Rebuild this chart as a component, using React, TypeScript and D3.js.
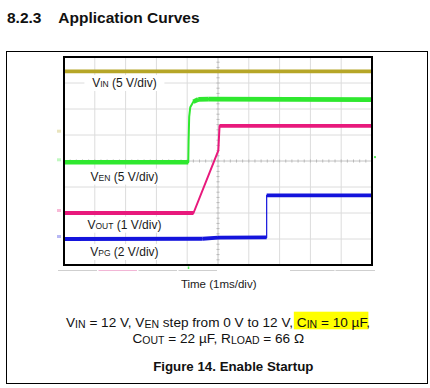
import React, { useLayoutEffect, useRef, useState } from "react";
import * as d3 from "d3";

// ---- data (time in ms, 1 ms/div; values in volts) ----
const timeDomain: [number, number] = [-5, 5];
const divDomain: [number, number] = [-4, 4];
const channelNames = ["VIN", "VEN", "VOUT", "VPG"];
const channelColors = ["#b6a628", "#2fe82f", "#e8197c", "#1414dc"];
const voltsPerDiv = [5, 5, 1, 2];
const groundDiv = [1.05, -0.05, -2, -3];

const vinTime = [-5, 5];
const vinVolts = [12.0, 12.0];
const venTime = [-5, -0.965, -0.955, -0.935, -0.9, -0.8, -0.64, -0.3, 5];
const venVolts = [0, 0, 4, 8.8, 10.6, 11.65, 12.1, 12.15, 12.05];
const voutTime = [-5, -0.795, 0.01, 0.05, 5];
const voutVolts = [0, 0, 2.4, 3.35, 3.35];
const vpgTime = [-5, -0.5, 0.0, 1.58, 1.58, 5];
const vpgVolts = [0, 0.02, 0.1, 0.12, 3.35, 3.35];

const seriesTime = [vinTime, venTime, voutTime, vpgTime];
const seriesVolts = [vinVolts, venVolts, voutVolts, vpgVolts];

const labelMain = ["V", "V", "V", "V"];
const labelSub = ["IN", "EN", "OUT", "PG"];
const labelScale = ["(5 V/div)", "(5 V/div)", "(1 V/div)", "(2 V/div)"];
const labelDiv = [3.0, -0.6, -2.45, -3.5];

const xGridDivs = d3.range(-5, 6);
const yGridDivs = d3.range(-4, 5);
const triggerTime = -0.965;
const triggerLevelDiv = 0.15;

const FONT = "'Liberation Sans', Arial, Helvetica, sans-serif";

export default function App() {
  const x = d3.scaleLinear().domain(timeDomain).range([64, 372]);
  const y = d3.scaleLinear().domain(divDomain).range([265, 57]);

  const line = d3
    .line<[number, number]>()
    .x((d) => x(d[0]))
    .y((d) => y(d[1]));

  const traces = seriesTime.map((ts, i) =>
    ts.map((t, k) => [t, groundDiv[i] + seriesVolts[i][k] / voltsPerDiv[i]] as [number, number])
  );

  const cStart = useRef<SVGTSpanElement>(null);
  const cEnd = useRef<SVGTSpanElement>(null);
  const [hl, setHl] = useState<{ x: number; w: number } | null>(null);
  useLayoutEffect(() => {
    try {
      const a = cStart.current!.getBBox();
      const b = cEnd.current!.getBBox();
      setHl({ x: a.x - 3, w: b.x + b.width - a.x + 4 });
    } catch (e) {
      setHl({ x: 294, w: 72 });
    }
  }, []);

  const xTicks = d3.range(timeDomain[0], timeDomain[1] + 0.001, 0.2);
  const yTicks = d3.range(divDomain[0], divDomain[1] + 0.001, 0.2);

  return (
    <svg width={430} height={388} style={{ position: "absolute", left: 0, top: 0, background: "#fff" }} fontFamily={FONT}>
      <rect x={0} y={0} width={430} height={388} fill="#fff" />
      {/* heading */}
      <text x={7} y={22.5} fontSize={15.5} fontWeight="bold" fill="#111">8.2.3</text>
      <text x={58.3} y={22.5} fontSize={15.5} fontWeight="bold" fill="#111">Application Curves</text>

      {/* outer figure box */}
      <rect x={6.5} y={51.5} width={421} height={332} fill="none" stroke="#000" strokeWidth={1} />

      {/* grid */}
      <g>
        {xGridDivs.map((d) => (
          <line key={"gx" + d} x1={x(d)} x2={x(d)} y1={y(4)} y2={y(-4)} stroke={d === 0 ? "#c4c4c4" : "#dcdcdc"} strokeWidth={1} />
        ))}
        {yGridDivs.map((d) => (
          <line key={"gy" + d} x1={x(-5)} x2={x(5)} y1={y(d)} y2={y(d)} stroke={d === 0 ? "#c4c4c4" : "#dcdcdc"} strokeWidth={1} />
        ))}
        {xTicks.map((t, i) => (
          <line key={"tx" + i} x1={x(t)} x2={x(t)} y1={y(0) - 1.5} y2={y(0) + 1.5} stroke="#b8b8b8" strokeWidth={1} />
        ))}
        {yTicks.map((t, i) => (
          <line key={"ty" + i} x1={x(0) - 1.5} x2={x(0) + 1.5} y1={y(t)} y2={y(t)} stroke="#b8b8b8" strokeWidth={1} />
        ))}
      </g>

      {/* channel labels with white backing */}
      {channelNames.map((n, i) => (
        <g key={"lab" + n}>
          <rect x={124.4 - 40} y={y(labelDiv[i]) - 8} width={80} height={16} fill="#fff" />
          <text x={124.4} y={y(labelDiv[i]) + 4.2} fontSize={12} textAnchor="middle" fill="#1a1a1a">
            <tspan>{labelMain[i]}</tspan>
            <tspan fontSize={8.5}>{labelSub[i]}</tspan>
            <tspan>{" " + labelScale[i]}</tspan>
          </text>
        </g>
      ))}

      {/* ground markers */}
      {channelNames.map((n, i) => (
        <rect key={"gm" + n} x={57} y={y(groundDiv[i]) - 4} width={4} height={3} fill={channelColors[i]} opacity={0.3} />
      ))}

      {/* traces */}
      {traces.map((pts, i) => {
        const thick: [number, number][][] = [];
        for (let k = 0; k < pts.length - 1; k++) {
          const dx = Math.abs(x(pts[k + 1][0]) - x(pts[k][0]));
          const dy = Math.abs(y(pts[k + 1][1]) - y(pts[k][1]));
          if (dy <= dx) thick.push([pts[k], pts[k + 1]]);
        }
        const w = i === 1 ? 4.6 : 3.8;
        return (
          <g key={"tr" + i}>
            <path d={line(pts) || ""} fill="none" stroke={channelColors[i]} strokeWidth={i === 3 ? 1.2 : 2} strokeLinejoin="round" />
            {thick.map((seg, j) => (
              <path key={j} d={line(seg) || ""} fill="none" stroke={channelColors[i]} strokeWidth={w} strokeLinecap="butt" />
            ))}
          </g>
        );
      })}

      {/* trigger markers */}
      <rect x={x(triggerTime) - 0.5} y={266.5} width={1.5} height={2.5} fill={channelColors[1]} opacity={0.8} />
      <rect x={374} y={y(triggerLevelDiv) - 1} width={2} height={2} fill={channelColors[1]} opacity={0.8} />

      {/* plot frame */}
      <rect x={64} y={57} width={308} height={208} fill="none" stroke="#000" strokeWidth={2} />

      {/* scope status bar remnants */}
      <g stroke="#cfcfcf" strokeWidth={1}>
        <line x1={58} x2={97} y1={270.5} y2={270.5} />
        <line x1={98.5} x2={137} y1={270.5} y2={270.5} stroke="#f2b6d6" />
        <line x1={138.5} x2={177} y1={270.5} y2={270.5} />
        <line x1={178.5} x2={217} y1={270.5} y2={270.5} />
        <line x1={290} x2={334.5} y1={270.5} y2={270.5} />
        <line x1={335.5} x2={375} y1={270.5} y2={270.5} />
      </g>

      {/* x axis label */}
      <text x={218.7} y={288} fontSize={11.5} textAnchor="middle" fill="#1a1a1a">Time (1ms/div)</text>

      {/* caption */}
      {hl && <rect x={hl.x} y={311.7} width={hl.w} height={17.6} fill="#ffff00" />}
      <text x={218} y={326.5} fontSize={13.6} textAnchor="middle" fill="#111">
        <tspan>V</tspan>
        <tspan dy={1.5} fontSize={10.5}>IN</tspan>
        <tspan dy={-1.5}>{" = 12 V, V"}</tspan>
        <tspan dy={1.5} fontSize={10.5}>EN</tspan>
        <tspan dy={-1.5}>{" step from 0 V to 12 V, "}</tspan>
        <tspan ref={cStart}>C</tspan>
        <tspan dy={1.5} fontSize={10.5}>IN</tspan>
        <tspan dy={-1.5} ref={cEnd}>{" = 10 µF"}</tspan>
        <tspan>,</tspan>
      </text>
      <text x={218.3} y={342.5} fontSize={13.6} textAnchor="middle" fill="#111">
        <tspan>C</tspan>
        <tspan dy={1.5} fontSize={10.5}>OUT</tspan>
        <tspan dy={-1.5}>{" = 22 µF, R"}</tspan>
        <tspan dy={1.5} fontSize={10.5}>LOAD</tspan>
        <tspan dy={-1.5}>{" = 66 Ω"}</tspan>
      </text>
      <text x={233.3} y={370.5} fontSize={13.3} fontWeight="bold" textAnchor="middle" fill="#111">Figure 14. Enable Startup</text>
    </svg>
  );
}
